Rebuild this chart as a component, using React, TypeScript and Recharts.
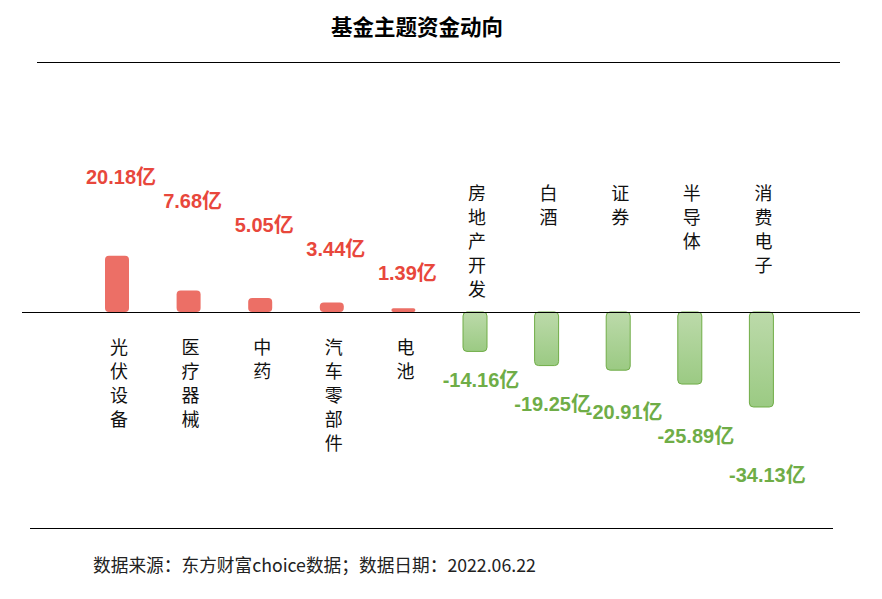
import React from 'react';
import { BarChart, Bar, XAxis, YAxis, Cell, LabelList } from 'recharts';

const categories = ['光伏设备', '医疗器械', '中药', '汽车零部件', '电池', '房地产开发', '白酒', '证券', '半导体', '消费电子'];
const flows = [20.18, 7.68, 5.05, 3.44, 1.39, -14.16, -19.25, -20.91, -25.89, -34.13];
const unit = '亿';
const title = '基金主题资金动向';
const source = '数据来源：东方财富choice数据；数据日期：2022.06.22';

const data = categories.map((name, i) => ({ name, value: flows[i] }));

const RED_BAR = '#EC6F66';
const RED_TEXT = '#E8473C';
const GREEN_TEXT = '#6FAD47';
const GREEN_STROKE = '#70AD47';
const CJK = '"Noto Sans CJK SC", "Noto Sans", sans-serif';
const NUM = '"Liberation Sans", Arial, "Noto Sans CJK SC", sans-serif';

const ValueLabel = (props: any) => {
  const { x, y, width, height, index } = props;
  const v = flows[index];
  const zeroY = y + height;
  const len = Math.abs(height);
  const cx = x + width / 2 + (v >= 0 ? 4 : 6);
  let cy: number;
  if (v >= 0) {
    cy = zeroY - (135 - 24 * index);
  } else {
    cy = zeroY + len * 1.72;
  }
  return (
    <text
      x={cx}
      y={cy}
      textAnchor="middle"
      dominantBaseline="central"
      fill={v >= 0 ? RED_TEXT : GREEN_TEXT}
      fontSize={20}
      fontWeight="bold"
      fontFamily={NUM}
    >
      {v.toFixed(2) + unit}
    </text>
  );
};

const NameLabel = (props: any) => {
  const { x, y, width, height, index } = props;
  const v = flows[index];
  const name = categories[index];
  const zeroY = y + height;
  const cx = x + width / 2 + 2;
  const startY = v >= 0 ? zeroY + 34 : zeroY - 120;
  return (
    <g>
      {name.split('').map((ch, k) => (
        <text
          key={k}
          x={cx}
          y={startY + k * 24}
          textAnchor="middle"
          dominantBaseline="central"
          fill="#111"
          fontSize={18}
          fontFamily={CJK}
        >
          {ch}
        </text>
      ))}
    </g>
  );
};

export default function App() {
  return (
    <div style={{ position: 'absolute', left: 0, top: 0, width: 882, height: 599, background: '#fff', overflow: 'hidden' }}>
      <div
        style={{
          position: 'absolute', left: 317, top: 12, width: 200, height: 28, lineHeight: '28px',
          textAlign: 'center', fontFamily: CJK, fontWeight: 'bold', fontSize: 21.5, color: '#000',
        }}
      >
        {title}
      </div>
      <div style={{ position: 'absolute', left: 37, top: 62, width: 803, height: 1, background: '#000' }} />
      <BarChart width={882} height={599} data={data} margin={{ top: 145, bottom: 120, left: 81, right: 85 }}>
        <defs>
          <linearGradient id="greenGrad" x1="0" y1="0" x2="0" y2="1">
            <stop offset="0%" stopColor="#BCDAAA" />
            <stop offset="100%" stopColor="#9BCA83" />
          </linearGradient>
        </defs>
        <XAxis dataKey="name" hide />
        <YAxis hide domain={[-60, 60]} />
        <Bar dataKey="value" barSize={24} radius={4} isAnimationActive={false}>
          {data.map((d, i) => (
            <Cell
              key={i}
              fill={d.value >= 0 ? RED_BAR : 'url(#greenGrad)'}
              stroke={d.value >= 0 ? 'none' : GREEN_STROKE}
              strokeWidth={1}
            />
          ))}
          <LabelList dataKey="value" content={ValueLabel} />
          <LabelList dataKey="name" content={NameLabel} />
        </Bar>
      </BarChart>
      <div style={{ position: 'absolute', left: 22, top: 312, width: 838, height: 1, background: '#000' }} />
      <div style={{ position: 'absolute', left: 30, top: 528, width: 803, height: 1, background: '#000' }} />
      <div
        style={{
          position: 'absolute', left: 93, top: 552, height: 24, lineHeight: '24px', whiteSpace: 'nowrap',
          fontFamily: CJK, fontSize: 17.7, color: '#222',
        }}
      >
        {source}
      </div>
    </div>
  );
}
